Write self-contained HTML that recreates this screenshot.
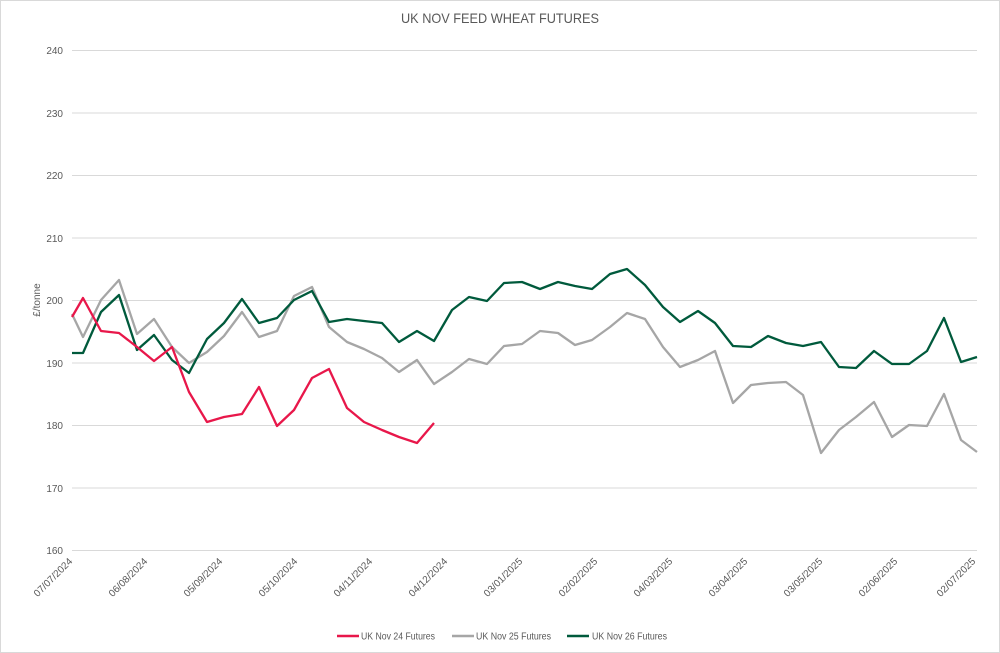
<!DOCTYPE html>
<html><head><meta charset="utf-8"><style>
html,body{margin:0;padding:0;background:#fff;}
svg{display:block;font-family:"Liberation Sans",sans-serif;}
</style></head><body>
<svg width="1000" height="653" viewBox="0 0 1000 653" xmlns="http://www.w3.org/2000/svg">
<rect x="0.5" y="0.5" width="999" height="652" fill="#fff" stroke="#d9d9d9"/>
<text x="500" y="23" text-anchor="middle" font-size="14" fill="#595959" textLength="198" lengthAdjust="spacingAndGlyphs">UK NOV FEED WHEAT FUTURES</text>
<g stroke="#d9d9d9" stroke-width="1">
<line x1="72" y1="50.5" x2="977" y2="50.5"/><line x1="72" y1="113" x2="977" y2="113"/>
<line x1="72" y1="175.5" x2="977" y2="175.5"/><line x1="72" y1="238" x2="977" y2="238"/>
<line x1="72" y1="300.5" x2="977" y2="300.5"/><line x1="72" y1="363" x2="977" y2="363"/>
<line x1="72" y1="425.5" x2="977" y2="425.5"/><line x1="72" y1="488" x2="977" y2="488"/>
<line x1="72" y1="550.5" x2="977" y2="550.5"/>
</g>
<g font-size="10" fill="#595959" text-anchor="end">
<text x="63" y="54">240</text><text x="63" y="117">230</text><text x="63" y="179">220</text>
<text x="63" y="242">210</text><text x="63" y="304">200</text><text x="63" y="367">190</text>
<text x="63" y="429">180</text><text x="63" y="492">170</text><text x="63" y="554">160</text>
</g>
<text transform="translate(40,300) rotate(-90)" text-anchor="middle" font-size="10" fill="#595959">£/tonne</text>
<g font-size="10" fill="#595959" text-anchor="end">
<text transform="translate(73,562) rotate(-45)" textLength="50" lengthAdjust="spacingAndGlyphs">07/07/2024</text>
<text transform="translate(148,562) rotate(-45)" textLength="50" lengthAdjust="spacingAndGlyphs">06/08/2024</text>
<text transform="translate(223,562) rotate(-45)" textLength="50" lengthAdjust="spacingAndGlyphs">05/09/2024</text>
<text transform="translate(298,562) rotate(-45)" textLength="50" lengthAdjust="spacingAndGlyphs">05/10/2024</text>
<text transform="translate(373,562) rotate(-45)" textLength="50" lengthAdjust="spacingAndGlyphs">04/11/2024</text>
<text transform="translate(448,562) rotate(-45)" textLength="50" lengthAdjust="spacingAndGlyphs">04/12/2024</text>
<text transform="translate(523,562) rotate(-45)" textLength="50" lengthAdjust="spacingAndGlyphs">03/01/2025</text>
<text transform="translate(598,562) rotate(-45)" textLength="50" lengthAdjust="spacingAndGlyphs">02/02/2025</text>
<text transform="translate(673,562) rotate(-45)" textLength="50" lengthAdjust="spacingAndGlyphs">04/03/2025</text>
<text transform="translate(748,562) rotate(-45)" textLength="50" lengthAdjust="spacingAndGlyphs">03/04/2025</text>
<text transform="translate(823,562) rotate(-45)" textLength="50" lengthAdjust="spacingAndGlyphs">03/05/2025</text>
<text transform="translate(898,562) rotate(-45)" textLength="50" lengthAdjust="spacingAndGlyphs">02/06/2025</text>
<text transform="translate(976,562) rotate(-45)" textLength="50" lengthAdjust="spacingAndGlyphs">02/07/2025</text>
</g>
<g fill="none" stroke-width="2.3" stroke-linejoin="round">
<polyline stroke="#a6a6a6" points="72,314 83,337 101,300 119,280 137,334 154,319 172,347 189,363 207,352 224,336 242,312 259,337 277,331 294,296 312,287 329,327 347,342 364,349 382,358 399,372 417,360 434,384 452,372 469,359 487,364 504,346 522,344 540,331 558,333 575,345 592,340 610,327 627,313 645,319 663,347 680,367 698,360 715,351 733,403 751,385 768,383 786,382 803,395 821,453 839,430 856,417 874,402 892,437 909,425 927,426 944,394 961,440 977,452"/>
<polyline stroke="#005a3c" points="72,353 83,353 101,312 119,295 137,350 154,335 172,360 189,373 207,339 224,323 242,299 259,323 277,318 294,300 312,291 329,322 347,319 364,321 382,323 399,342 417,331 434,341 452,310 469,297 487,301 504,283 522,282 540,289 558,282 575,286 592,289 610,274 627,269 645,285 663,307 680,322 698,311 715,323 733,346 751,347 768,336 786,343 803,346 821,342 839,367 856,368 874,351 892,364 909,364 927,351 944,318 961,362 977,357"/>
<polyline stroke="#e8174a" points="72,317 83,298 101,331 119,333 137,347 154,361 172,347 189,392 207,422 224,417 242,414 259,387 277,426 294,410 312,378 329,369 347,408 364,422 382,430 399,437 417,443 434,423"/>
</g>
<g font-size="10" fill="#595959">
<line x1="337" y1="636" x2="359" y2="636" stroke="#e8174a" stroke-width="2.5"/>
<text x="361" y="639.5" textLength="74" lengthAdjust="spacingAndGlyphs">UK Nov 24 Futures</text>
<line x1="452" y1="636" x2="474" y2="636" stroke="#a6a6a6" stroke-width="2.5"/>
<text x="476" y="639.5" textLength="75" lengthAdjust="spacingAndGlyphs">UK Nov 25 Futures</text>
<line x1="567" y1="636" x2="589" y2="636" stroke="#005a3c" stroke-width="2.5"/>
<text x="592" y="639.5" textLength="75" lengthAdjust="spacingAndGlyphs">UK Nov 26 Futures</text>
</g>
</svg>
</body></html>
